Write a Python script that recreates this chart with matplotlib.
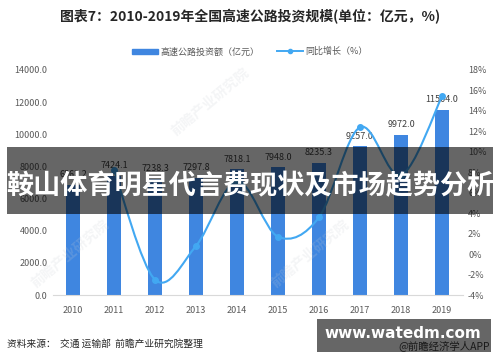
import matplotlib
matplotlib.use("Agg")
import matplotlib.pyplot as plt
from matplotlib.path import Path
from matplotlib.patches import PathPatch, Rectangle
from matplotlib.lines import Line2D
from matplotlib.ticker import FuncFormatter

plt.rcParams["font.family"] = ["Noto Sans CJK SC", "DejaVu Sans"]

years = ["2010", "2011", "2012", "2013", "2014", "2015", "2016", "2017", "2018", "2019"]
invest = [6862.2, 7424.1, 7238.3, 7297.8, 7818.1, 7948.0, 8235.3, 9257.0, 9972.0, 11504.0]
growth_years = years[1:]
growth = [8.2, -2.5, 0.8, 7.1, 1.7, 3.6, 12.4, 7.7, 15.4]

bar_color = "#3f86e0"
line_color = "#42a8f2"
text_gray = "#595959"

fig = plt.figure(figsize=(5.0, 3.62), dpi=100)
ax = fig.add_axes([0.105, 0.185, 0.82, 0.622])
ax2 = ax.twinx()

x = list(range(len(years)))
ax.bar(x, invest, width=0.32, color=bar_color, zorder=2)
for xi, v in zip(x, invest):
    ax.text(xi, v + 350, f"{v:.1f}", ha="center", va="bottom", fontsize=6.5, color="#404040")

ax.set_xlim(-0.5, len(years) - 0.5)
ax.set_ylim(0, 14000)
ax.set_yticks(range(0, 14001, 2000))
ax.yaxis.set_major_formatter(FuncFormatter(lambda v, p: f"{v:.1f}"))
ax.set_xticks(x)
ax.set_xticklabels(years)
ax.tick_params(axis="both", length=0, labelsize=6.5, colors=text_gray)
ax.tick_params(axis="x", pad=8)
for s in ["top", "right", "left"]:
    ax.spines[s].set_visible(False)
ax.spines["bottom"].set_color("#d9d9d9")

# smooth line like Excel (Catmull-Rom converted to bezier)
gx = [years.index(y) for y in growth_years]
pts = list(zip(gx, growth))
verts = [pts[0]]
codes = [Path.MOVETO]
for i in range(len(pts) - 1):
    p0 = pts[i - 1] if i > 0 else pts[i]
    p1 = pts[i]
    p2 = pts[i + 1]
    p3 = pts[i + 2] if i + 2 < len(pts) else pts[i + 1]
    c1 = (p1[0] + (p2[0] - p0[0]) / 6, p1[1] + (p2[1] - p0[1]) / 6)
    c2 = (p2[0] - (p3[0] - p1[0]) / 6, p2[1] - (p3[1] - p1[1]) / 6)
    verts += [c1, c2, p2]
    codes += [Path.CURVE4] * 3
ax2.add_patch(PathPatch(Path(verts, codes), fill=False, edgecolor=line_color, lw=1.5, zorder=3))
ax2.plot(gx, growth, "o", color=line_color, ms=4, zorder=4)
ax2.set_ylim(-4, 18)
ax2.set_yticks(range(-4, 19, 2))
ax2.yaxis.set_major_formatter(FuncFormatter(lambda v, p: f"{int(v)}%"))
ax2.tick_params(axis="y", length=0, labelsize=6.5, colors=text_gray, pad=4)
for s in ["top", "right", "left", "bottom"]:
    ax2.spines[s].set_visible(False)

# title and legend
fig.text(0.5, 0.953, "图表7：2010-2019年全国高速公路投资规模(单位：亿元，%)",
         ha="center", va="center", fontsize=10, fontweight="bold", color="#262626")
handles = [Rectangle((0, 0), 1, 1, color=bar_color),
           Line2D([], [], color=line_color, marker="o", ms=3, lw=1.4)]
fig.legend(handles, ["高速公路投资额（亿元）", "同比增长（%）"], loc="center",
           bbox_to_anchor=(0.5, 0.857), ncol=2, frameon=False, fontsize=6.5,
           labelcolor=text_gray, handlelength=2.8, handleheight=0.5, columnspacing=2.0,
           handletextpad=0.3)

# faint watermarks
for wx, wy in [(0.42, 0.72), (0.62, 0.3), (0.14, 0.3)]:
    fig.text(wx, wy, "前瞻产业研究院", rotation=40, fontsize=10, color="#c8ccd4",
             alpha=0.2, ha="center", va="center", fontweight="bold")

fig.text(0.014, 0.05, "资料来源：  交通 运输部  前瞻产业研究院整理", fontsize=7,
         color="#262626", va="center")
fig.text(0.796, 0.046, "@前瞻经济学人APP", fontsize=7.5, color="#404040", va="center")

# overlay banners
fig.patches.append(Rectangle((0.014, 0.408), 0.972, 0.186, transform=fig.transFigure,
                             facecolor="black", alpha=0.6, zorder=10))
fig.text(0.5, 0.487, "鞍山体育明星代言费现状及市场趋势分析", ha="center", va="center",
         fontsize=19.5, fontweight="bold", color="white", zorder=11)
fig.patches.append(Rectangle((0.634, 0.028), 0.348, 0.091, transform=fig.transFigure,
                             facecolor="black", alpha=0.6, zorder=10))
fig.text(0.806, 0.08, "www.watedm.com", ha="center", va="center", fontsize=11,
         fontweight="bold", color="white", zorder=11, family="DejaVu Sans")

fig.savefig("out.png", dpi=100)
